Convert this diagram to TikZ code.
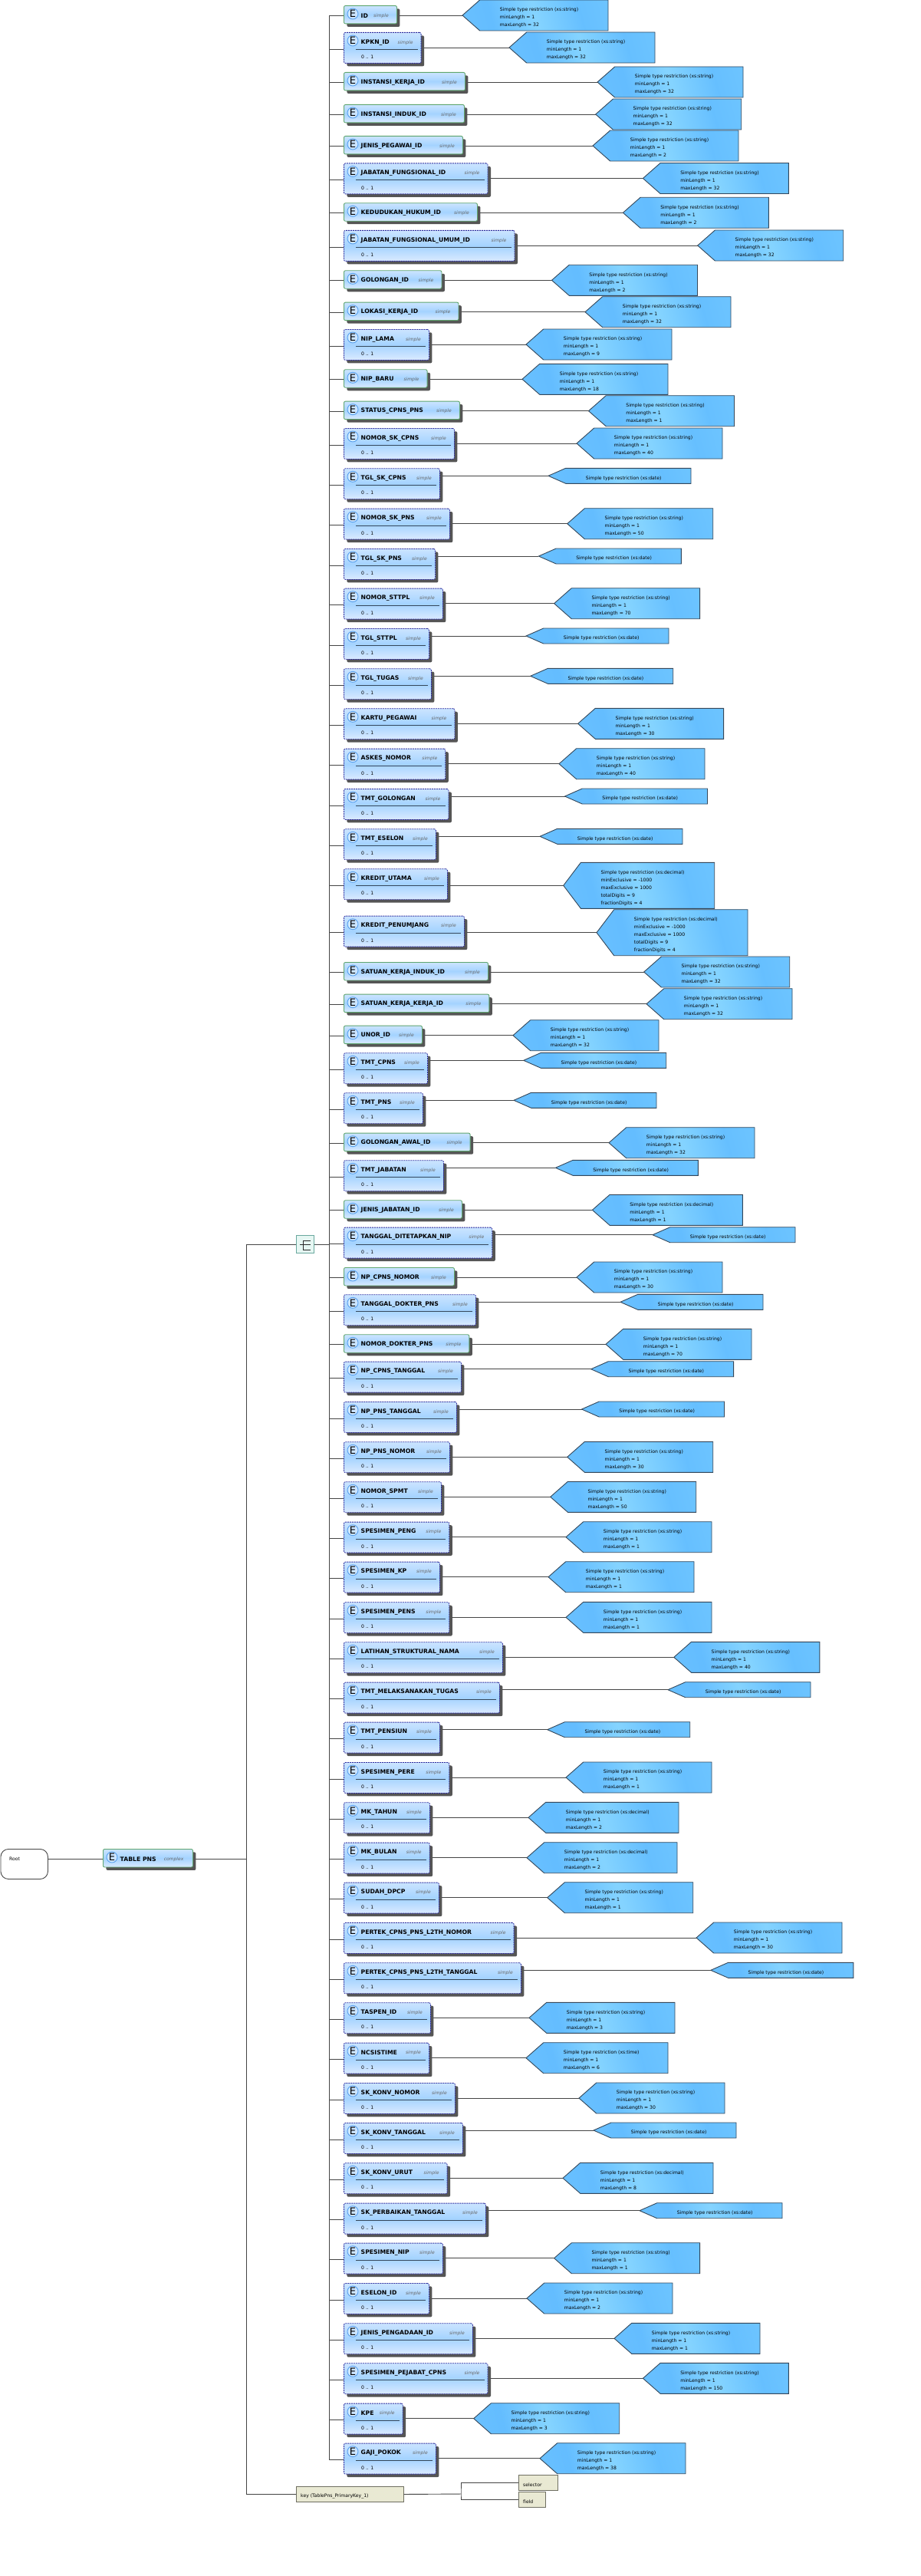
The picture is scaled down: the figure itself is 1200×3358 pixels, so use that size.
\documentclass[tikz,border=0pt]{standalone}
\usepackage{fontspec}
\setmainfont{DejaVu Sans}
\usetikzlibrary{shadows}

\definecolor{linegrey}{HTML}{454545}
\definecolor{shadowgrey}{HTML}{555555}
\definecolor{reqgreen}{HTML}{5FA56E}
\definecolor{optblue}{HTML}{2E2E9E}
\definecolor{boxtop}{HTML}{CBE4FF}
\definecolor{boxmid}{HTML}{A4D3FF}
\definecolor{boxbot}{HTML}{DAEAFF}
\definecolor{badgeedge}{HTML}{5AA2EE}
\definecolor{typeedge}{HTML}{34475A}
\definecolor{keyfill}{HTML}{E9E9D3}
\definecolor{keyedge}{HTML}{6F6F62}
\definecolor{seqedge}{HTML}{6AA89E}
\definecolor{seqfill}{HTML}{E6F7F3}
\definecolor{seqdark}{HTML}{2A2A2A}

\pgfdeclarehorizontalshading{typeshade}{100bp}{
  rgb(0bp)=(0.45,0.78,1);
  rgb(32bp)=(0.39,0.74,1);
  rgb(50bp)=(0.52,0.83,1);
  rgb(68bp)=(0.40,0.75,1);
  rgb(100bp)=(0.47,0.80,1)}

\tikzset{
  link/.style={draw=linegrey, line width=0.9pt},
  elbox/.style={anchor=north west, inner sep=0pt, rounded corners=2pt, top color=boxtop, bottom color=boxbot, middle color=boxmid,
    general shadow={fill=shadowgrey, shadow xshift=4pt, shadow yshift=-4pt}},
  reqbox/.style={elbox, draw=reqgreen, line width=0.9pt, minimum height=23.5pt},
  optbox/.style={elbox, draw=optblue, line width=0.8pt, dash pattern=on 2pt off 1pt, minimum height=40pt},
  ebadge/.style={circle, draw=badgeedge, line width=0.9pt, fill=boxtop, minimum size=14pt, inner sep=0pt, font=\fontsize{13}{13}\selectfont},
  ellabel/.style={anchor=west, inner sep=0pt, font=\fontsize{7.7}{9}\selectfont\bfseries},
  elkind/.style={anchor=east, inner sep=0pt, text=black!60, font=\fontsize{6}{8}\selectfont\itshape},
  eloccurs/.style={anchor=west, inner sep=0pt, font=\fontsize{6.1}{8}\selectfont},
  typeshape/.style={draw=typeedge, line width=0.9pt, shade, shading=typeshade, shading angle=15},
  typetext/.style={anchor=north west, inner sep=0pt, align=left, font=\fontsize{6.1}{10}\selectfont},
  keybox/.style={anchor=north west, draw=keyedge, line width=0.9pt, fill=keyfill, inner sep=0pt, minimum height=20pt},
  keytext/.style={anchor=west, inner sep=0pt, font=\fontsize{6.1}{8}\selectfont},
}

% element rows: name, label, top, right edge
\newcommand{\reqelem}[5][448]{%
  \def\curname{#2}\def\curtop{#4}\def\curshift{7}\def\curright{#5}%
  \node[reqbox, minimum width={#5-#1}] (#2) at (#1,#4) {};
  \node[ebadge] (#2-E) at ({#1+12},{#4+11}) {E};
  \node[ellabel] (#2-name) at ({#1+22.5},{#4+13.3}) {#3};
  \coordinate (#2-in) at (#1,{#4+13.5});
  \coordinate (#2-out) at ({#5+4},{#4+13.5});
}
\newcommand{\optelem}[4]{%
  \def\curname{#1}\def\curtop{#3}\def\curshift{0}\def\curright{#4}%
  \node[optbox, minimum width={#4-448}] (#1) at (448,#3) {};
  \draw[draw=typeedge, line width=0.9pt] (464,{#3+22.3}) -- ({#4-4},{#3+22.3});
  \node[ebadge] (#1-E) at (460,{#3+11}) {E};
  \node[ellabel] (#1-name) at (470.5,{#3+13.3}) {#2};
  \node[eloccurs] (#1-occ) at (471,{#3+32.3}) {0 .. 1};
  \coordinate (#1-in) at (448,{#3+22});
}
\newcommand{\simplekind}{\node[elkind] (\curname-kind) at ({\curright-10},{\curtop+13.5}) {simple};}
\newcommand{\tolink}{%
  \draw[link] (\curname-in -| trunk) -- (\curname-in);
}

% type boxes: tip x, width, top, height, text
\newcommand{\typebox}[5]{%
  \pgfmathsetmacro{\tymid}{#3+#4/2}
  \path[typeshape] (#1,\tymid) -- ({#1+22.7},#3) -- ({#1+#2},#3) -- ({#1+#2},{#3+#4}) -- ({#1+22.7},{#3+#4}) -- cycle;
  \coordinate (\curname-tip) at (#1,\tymid);
  \coordinate (\curname-out) at ({\curright+4},\tymid);
  \node[typetext] (\curname-type) at ({#1+48.7},{#3+10}) {#5};
  \draw[link] (\curname-out) -- (\curname-tip);
  \simplekind
  \tolink
}
\newcommand{\strtype}[2]{\pgfmathsetmacro{\tytop}{\curtop-\curshift}\typebox{#1}{190}{\tytop}{40}{Simple type restriction (xs:string)\\minLength = 1\\maxLength = #2}}
\newcommand{\dectype}[2]{\pgfmathsetmacro{\tytop}{\curtop-\curshift}\typebox{#1}{196}{\tytop}{40}{Simple type restriction (xs:decimal)\\minLength = 1\\maxLength = #2}}
\newcommand{\timetype}[2]{\pgfmathsetmacro{\tytop}{\curtop-\curshift}\typebox{#1}{185}{\tytop}{40}{Simple type restriction (xs:time)\\minLength = 1\\maxLength = #2}}
\newcommand{\datetype}[1]{\typebox{#1}{186}{\curtop}{20}{Simple type restriction (xs:date)}}
\newcommand{\limittype}[1]{\pgfmathsetmacro{\tytop}{\curtop-8}\typebox{#1}{197}{\tytop}{60}{Simple type restriction (xs:decimal)\\minExclusive = -1000\\maxExclusive = 1000\\totalDigits = 9\\fractionDigits = 4}}

\begin{document}
\begin{tikzpicture}[x=1pt, y=-1pt]
\useasboundingbox (0,0) rectangle (1200,3358);
\coordinate (trunk) at (429,0);
\coordinate (branch) at (321,0);

% root and table element
\node[anchor=north west, draw=linegrey, line width=0.9pt, fill=white, rounded corners=10pt, minimum width=61.5pt, minimum height=39pt, inner sep=0pt] (root) at (0.5,2410) {};
\node[keytext] (root-name) at (12,2423.5) {Root};
\reqelem[134]{TABLEPNS}{TABLE PNS}{2410}{251}
\node[elkind] (TABLEPNS-kind) at (239.5,2424) {complex};
\draw[link] (root.east |- TABLEPNS-in) -- (TABLEPNS-in);
\draw[link] (TABLEPNS-out) -- (TABLEPNS-out -| branch);

% sequence symbol
\node[anchor=north west, draw=seqedge, line width=1.2pt, fill=seqfill, minimum size=23pt, inner sep=0pt] (seq) at (386,1610) {};
\draw[draw=seqdark, line width=1pt] (405,1617) -- (395.3,1617) -- (395.3,1629) -- (405,1629) (391,1622.8) -- (405,1622.8);

% key
\node[keybox, minimum width=140pt] (key) at (385.7,3241) {};
\node[keytext] (key-name) at (392,3253.7) {key (TablePns\_PrimaryKey\_1)};
\node[keybox, minimum width=50.7pt] (selector) at (676,3226) {};
\node[keytext] (selector-name) at (682,3239.3) {selector};
\node[keybox, minimum width=34.7pt] (field) at (676,3247.7) {};
\node[keytext] (field-name) at (682,3260.7) {field};
\coordinate (fork) at (601,3251);
\draw[link] (key.east) -- (fork);
\draw[link] (selector.west) -| (fork) |- (field.west);

% elements
\reqelem{ID}{ID}{7}{517} \strtype{603}{32}
\optelem{KPKNID}{KPKN\_ID}{42}{548.7} \strtype{664}{32}
\reqelem{INSKERJA}{INSTANSI\_KERJA\_ID}{94}{606} \strtype{779}{32}
\reqelem{INSINDUK}{INSTANSI\_INDUK\_ID}{136}{605} \strtype{776.7}{32}
\reqelem{JNSPEGAWAI}{JENIS\_PEGAWAI\_ID}{177}{603} \strtype{773}{2}
\optelem{JABFUNG}{JABATAN\_FUNGSIONAL\_ID}{212.5}{635.6} \strtype{838.4}{32}
\reqelem{KEDHUKUM}{KEDUDUKAN\_HUKUM\_ID}{264.3}{622} \strtype{812.4}{2}
\optelem{JABUMUM}{JABATAN\_FUNGSIONAL\_UMUM\_ID}{300}{670.6} \strtype{909.7}{32}
\reqelem{GOLID}{GOLONGAN\_ID}{352.3}{575.5} \strtype{719.5}{2}
\reqelem{LOKASI}{LOKASI\_KERJA\_ID}{393.7}{597.5} \strtype{763}{32}
\optelem{NIPLAMA}{NIP\_LAMA}{429}{559} \strtype{686}{9}
\reqelem{NIPBARU}{NIP\_BARU}{481.3}{556.6} \strtype{681}{18}
\reqelem{STATUS}{STATUS\_CPNS\_PNS}{522.7}{599} \strtype{767.5}{1}
\optelem{SKCPNS}{NOMOR\_SK\_CPNS}{558}{592} \strtype{752}{40}
\optelem{TGLSKCPNS}{TGL\_SK\_CPNS}{610.3}{573} \datetype{715}
\optelem{SKPNS}{NOMOR\_SK\_PNS}{662.7}{586} \strtype{739.7}{50}
\optelem{TGLSKPNS}{TGL\_SK\_PNS}{715}{567} \datetype{702.4}
\optelem{STTPL}{NOMOR\_STTPL}{766.7}{577} \strtype{722.6}{70}
\optelem{TGLSTTPL}{TGL\_STTPL}{819}{559} \datetype{686}
\optelem{TGLTUGAS}{TGL\_TUGAS}{871.3}{562} \datetype{691.7}
\optelem{KARTU}{KARTU\_PEGAWAI}{923.3}{592.5} \strtype{753.6}{30}
\optelem{ASKES}{ASKES\_NOMOR}{975.7}{580.4} \strtype{729}{40}
\optelem{TMTGOL}{TMT\_GOLONGAN}{1028}{584.5} \datetype{736.5}
\optelem{TMTESELON}{TMT\_ESELON}{1080.3}{568} \datetype{704}
\optelem{KREDUTAMA}{KREDIT\_UTAMA}{1132.3}{583} \limittype{734.7}
\optelem{KREDPENUNJ}{KREDIT\_PENUMJANG}{1193.7}{605} \limittype{778}
\reqelem{SATINDUK}{SATUAN\_KERJA\_INDUK\_ID}{1254}{636} \strtype{839.7}{32}
\reqelem{SATKERJA}{SATUAN\_KERJA\_KERJA\_ID}{1295.7}{637.4} \strtype{843}{32}
\reqelem{UNOR}{UNOR\_ID}{1336.7}{550} \strtype{669}{32}
\optelem{TMTCPNS}{TMT\_CPNS}{1372.3}{557} \datetype{682.7}
\optelem{TMTPNS}{TMT\_PNS}{1424.3}{551} \datetype{670}
\reqelem{GOLAWAL}{GOLONGAN\_AWAL\_ID}{1476.7}{612.7} \strtype{794}{32}
\optelem{TMTJAB}{TMT\_JABATAN}{1512.3}{578} \datetype{724.4}
\reqelem{JNSJAB}{JENIS\_JABATAN\_ID}{1564.3}{602} \dectype{772.4}{1}
\optelem{TGLNIP}{TANGGAL\_DITETAPKAN\_NIP}{1599.7}{641.4} \datetype{851}
\reqelem{CPNSNOMOR}{NP\_CPNS\_NOMOR}{1652}{592} \strtype{752}{30}
\optelem{TGLDOKTER}{TANGGAL\_DOKTER\_PNS}{1687.3}{620} \datetype{809}
\reqelem{NODOKTER}{NOMOR\_DOKTER\_PNS}{1739.3}{611.4} \strtype{790}{70}
\optelem{CPNSTGL}{NP\_CPNS\_TANGGAL}{1774.7}{601} \datetype{770.6}
\optelem{PNSTGL}{NP\_PNS\_TANGGAL}{1827}{595} \datetype{758.5}
\optelem{PNSNOMOR}{NP\_PNS\_NOMOR}{1879.3}{586} \strtype{739.7}{30}
\optelem{SPMT}{NOMOR\_SPMT}{1931.3}{575} \strtype{717.7}{50}
\optelem{SPENG}{SPESIMEN\_PENG}{1983.7}{585.4} \strtype{738}{1}
\optelem{SPKP}{SPESIMEN\_KP}{2035.7}{573} \strtype{715}{1}
\optelem{SPENS}{SPESIMEN\_PENS}{2088.3}{585.4} \strtype{738}{1}
\optelem{LATIHAN}{LATIHAN\_STRUKTURAL\_NAMA}{2140.3}{655} \strtype{878.8}{40}
\optelem{TMTTUGAS}{TMT\_MELAKSANAKAN\_TUGAS}{2192.7}{651} \datetype{871}
\optelem{TMTPENSIUN}{TMT\_PENSIUN}{2244.7}{573} \datetype{713.7}
\optelem{SPERE}{SPESIMEN\_PERE}{2297}{585.4} \strtype{738}{1}
\optelem{MKTAHUN}{MK\_TAHUN}{2349.3}{560} \dectype{689}{2}
\optelem{MKBULAN}{MK\_BULAN}{2401.7}{559.8} \dectype{687}{2}
\optelem{DPCP}{SUDAH\_DPCP}{2453.7}{572} \strtype{713.7}{1}
\optelem{PERTEKNO}{PERTEK\_CPNS\_PNS\_L2TH\_NOMOR}{2506}{669.7} \strtype{908}{30}
\optelem{PERTEKTGL}{PERTEK\_CPNS\_PNS\_L2TH\_TANGGAL}{2558.3}{679} \datetype{926.8}
\optelem{TASPEN}{TASPEN\_ID}{2610.3}{561} \strtype{690}{3}
\optelem{NCSISTIME}{NCSISTIME}{2662.7}{559} \timetype{686}{6}
\optelem{KONVNOMOR}{SK\_KONV\_NOMOR}{2715}{593} \strtype{755}{30}
\optelem{KONVTGL}{SK\_KONV\_TANGGAL}{2767}{603} \datetype{774}
\optelem{KONVURUT}{SK\_KONV\_URUT}{2819.3}{582.7} \dectype{734}{8}
\optelem{PERBTGL}{SK\_PERBAIKAN\_TANGGAL}{2871.7}{633} \datetype{834}
\optelem{SPNIP}{SPESIMEN\_NIP}{2923.7}{577} \strtype{722.6}{1}
\optelem{ESELON}{ESELON\_ID}{2976}{559} \strtype{687}{2}
\optelem{PENGADAAN}{JENIS\_PENGADAAN\_ID}{3028.3}{616} \strtype{801}{1}
\optelem{SPCPNS}{SPESIMEN\_PEJABAT\_CPNS}{3080.3}{635.6} \strtype{838.4}{150}
\optelem{KPE}{KPE}{3132.7}{524.8} \strtype{617.7}{3}
\optelem{GAJI}{GAJI\_POKOK}{3184.7}{568} \strtype{704}{38}

% trunks
\draw[link] (ID-in -| trunk) -- (GAJI-in -| trunk);
\draw[link] (seq.east) -- (seq.east -| trunk);
\draw[link] (seq.west -| branch) -- (seq.west);
\draw[link] (seq.west -| branch) -- (key.west -| branch) -- (key.west);
\end{tikzpicture}
\end{document}
